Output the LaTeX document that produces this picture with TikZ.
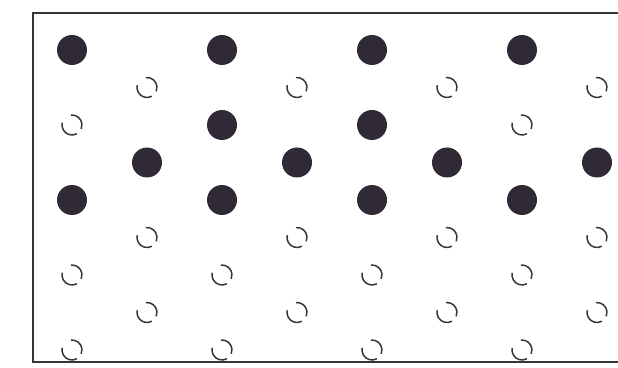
\documentclass[tikz,border=0pt]{standalone}
\usepackage{xcolor}
\usepackage{tikz}
\definecolor{Ink}{HTML}{363636}
\definecolor{Dot}{HTML}{302936}
\tikzset{
  dot/.style={circle, fill=Dot, draw=none, minimum size=30pt, inner sep=0pt},
  ringline/.style={draw=Ink, line width=1.5pt},
  ring/.pic={
    \draw[ringline] (96:10pt) arc[start angle=96, end angle=-23, radius=10pt];
    \draw[ringline] (-61:10pt) arc[start angle=-61, end angle=-193, radius=10pt];
  },
}

\begin{document}
\begin{tikzpicture}[x=1pt, y=1pt]
  \useasboundingbox (0,0) rectangle (618,367);
  % frame, open to the right
  \draw[draw=Ink, line width=1.2pt] (618,354) -- (33,354) -- (33,5) -- (618,5);
  % filled sites
  \foreach \r/\k in {0/0,0/2,0/4,0/6, 2/2,2/4, 3/1,3/3,3/5,3/7, 4/0,4/2,4/4,4/6}
    \node[dot] (d-\r-\k) at ({72+75*\k}, {317-37.5*\r}) {};
  % empty sites
  \foreach \r/\k in {1/1,1/3,1/5,1/7, 2/0,2/6, 5/1,5/3,5/5,5/7,
                     6/0,6/2,6/4,6/6, 7/1,7/3,7/5,7/7, 8/0,8/2,8/4,8/6}
    \pic at ({72+75*\k}, {317-37.5*\r}) {ring};
\end{tikzpicture}
\end{document}
